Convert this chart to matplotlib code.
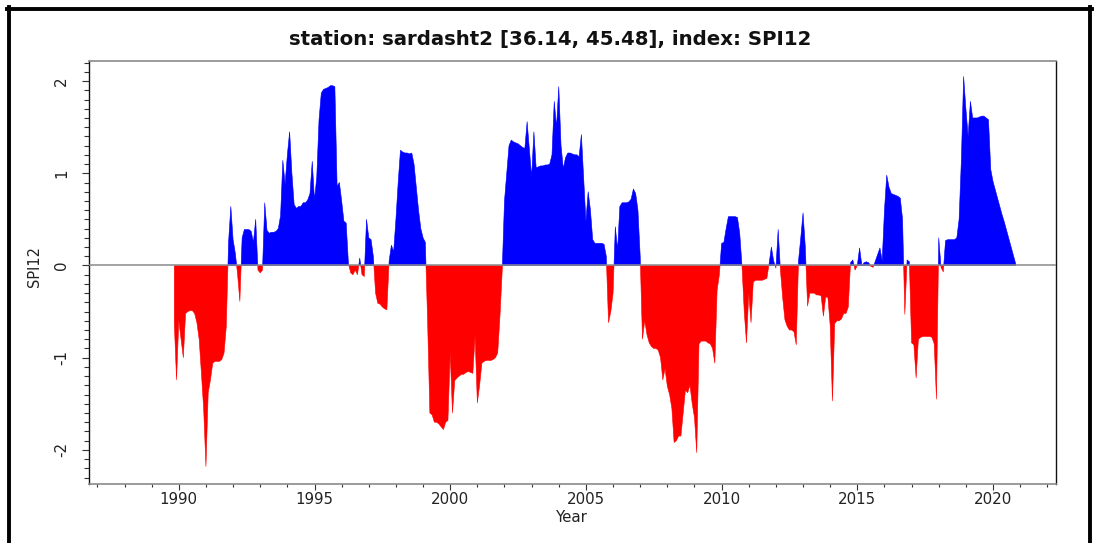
import numpy as np
import matplotlib
matplotlib.use("Agg")
import matplotlib.pyplot as plt
from matplotlib.lines import Line2D
from matplotlib.ticker import MultipleLocator, FixedLocator

# ---- data: monthly SPI12, first value = November 1989 ----
start_year = 1989
start_month = 11

spi_1989_1993 = [
    -0.62, -1.24,
    -0.60, -0.80, -1.00, -0.52, -0.50, -0.49, -0.49, -0.52, -0.62, -0.80, -1.17, -1.56,
    -2.18, -1.38, -1.24, -1.06, -1.04, -1.04, -1.04, -1.02, -0.95, -0.66, 0.25, 0.64,
    0.28, 0.13, -0.10, -0.39, 0.30, 0.39, 0.39, 0.39, 0.37, 0.25, 0.50, -0.05,
    -0.08, -0.05, 0.68, 0.38, 0.35, 0.36, 0.36, 0.37, 0.40, 0.54, 1.14, 0.88,
]
spi_1994_1998 = [
    1.20, 1.45, 1.00, 0.66, 0.62, 0.64, 0.64, 0.68, 0.68, 0.71, 0.78, 1.13,
    0.71, 0.96, 1.58, 1.87, 1.91, 1.92, 1.93, 1.95, 1.95, 1.94, 0.86, 0.90,
    0.70, 0.48, 0.46, 0.02, -0.08, -0.10, -0.05, -0.10, 0.08, -0.10, -0.12, 0.50,
    0.30, 0.28, 0.10, -0.30, -0.41, -0.42, -0.45, -0.47, -0.48, 0.05, 0.22, 0.15,
    0.50, 0.90, 1.25, 1.23, 1.22, 1.22, 1.21, 1.22, 1.10, 0.85, 0.60, 0.40,
]
spi_1999_2003 = [
    0.30, 0.25, -0.60, -1.60, -1.62, -1.70, -1.70, -1.72, -1.75, -1.78, -1.70, -1.68,
    -0.95, -1.60, -1.25, -1.22, -1.20, -1.18, -1.18, -1.16, -1.15, -1.16, -1.17, -0.77,
    -1.49, -1.30, -1.06, -1.04, -1.03, -1.03, -1.03, -1.02, -1.00, -0.95, -0.55, -0.05,
    0.70, 1.00, 1.30, 1.36, 1.34, 1.33, 1.32, 1.30, 1.28, 1.27, 1.56, 1.26,
    0.96, 1.45, 1.06, 1.07, 1.08, 1.08, 1.09, 1.09, 1.10, 1.20, 1.78, 1.50,
]
spi_2004_2008 = [
    1.94, 1.30, 1.05, 1.17, 1.22, 1.22, 1.21, 1.20, 1.20, 1.18, 1.42, 0.95,
    0.48, 0.80, 0.60, 0.28, 0.24, 0.24, 0.24, 0.24, 0.23, 0.10, -0.62, -0.50,
    -0.30, 0.42, 0.17, 0.64, 0.68, 0.68, 0.68, 0.69, 0.72, 0.83, 0.78, 0.60,
    0.10, -0.80, -0.60, -0.75, -0.84, -0.88, -0.90, -0.90, -0.92, -1.00, -1.24, -1.12,
    -1.31, -1.40, -1.55, -1.92, -1.90, -1.85, -1.85, -1.60, -1.35, -1.38, -1.30, -1.50,
]
spi_2009_2013 = [
    -1.65, -2.03, -0.85, -0.82, -0.82, -0.82, -0.84, -0.85, -0.90, -1.06, -0.27, -0.10,
    0.24, 0.25, 0.40, 0.53, 0.53, 0.53, 0.53, 0.52, 0.35, 0.00, -0.50, -0.84,
    -0.30, -0.62, -0.18, -0.16, -0.16, -0.16, -0.16, -0.15, -0.14, 0.02, 0.20, 0.05,
    -0.03, 0.39, -0.05, -0.35, -0.59, -0.66, -0.70, -0.70, -0.72, -0.86, 0.05, 0.30,
    0.57, 0.20, -0.44, -0.30, -0.30, -0.30, -0.32, -0.32, -0.33, -0.55, -0.34, -0.35,
]
spi_2014_2018 = [
    -0.65, -1.47, -0.63, -0.60, -0.60, -0.58, -0.52, -0.52, -0.45, 0.03, 0.06, -0.05,
    0.00, 0.19, 0.00, 0.03, 0.04, 0.03, -0.01, -0.02, 0.05, 0.12, 0.19, 0.05,
    0.60, 0.98, 0.85, 0.78, 0.77, 0.76, 0.75, 0.73, 0.50, -0.53, 0.06, 0.04,
    -0.84, -0.86, -1.22, -0.80, -0.78, -0.77, -0.77, -0.77, -0.77, -0.78, -0.85, -1.45,
    0.30, -0.02, -0.07, 0.27, 0.28, 0.28, 0.28, 0.28, 0.30, 0.50, 1.14, 2.05,
]
spi_2019_2020 = [
    1.70, 1.40, 1.78, 1.60, 1.60, 1.60, 1.61, 1.62, 1.62, 1.60, 1.58, 1.04,
    0.91, 0.82, 0.73, 0.64, 0.55, 0.47, 0.38, 0.29, 0.20, 0.11, 0.02,
]

title_text = "station: sardasht2 [36.14, 45.48], index: SPI12"
y_label = "SPI12"
x_label = "Year"
x_major = [1990, 1995, 2000, 2005, 2010, 2015, 2020]
y_major = [-2, -1, 0, 1, 2]

values = np.array(spi_1989_1993 + spi_1994_1998 + spi_1999_2003 +
                  spi_2004_2008 + spi_2009_2013 + spi_2014_2018 + spi_2019_2020)
t = start_year + (start_month - 1) / 12 + np.arange(len(values)) / 12

# ---- figure ----
plt.rcParams['font.family'] = ['DejaVu Sans']
W, H = 1098, 543
fig = plt.figure(figsize=(W / 100, H / 100), dpi=100)

def fx(px):
    return px / W

def fy(py):
    return 1 - py / H

ax_l, ax_r, ax_t, ax_b = 88.7, 1056, 61, 483.5
ax = fig.add_axes([fx(ax_l), fy(ax_b), fx(ax_r - ax_l), (ax_b - ax_t) / H])

ax.fill_between(t, values, 0, where=values >= 0, interpolate=True,
                facecolor='#0000FF', edgecolor='#0000FF', lw=0.4)
ax.fill_between(t, values, 0, where=values <= 0, interpolate=True,
                facecolor='#FF0000', edgecolor='#FF0000', lw=0.4)
ax.axhline(0, color='#8a8a8a', lw=1.1, zorder=3)

ax.set_xlim(1986.68, 2022.32)
ax.set_ylim(-2.365, 2.218)

ax.xaxis.set_major_locator(FixedLocator(x_major))
ax.xaxis.set_minor_locator(FixedLocator(list(range(1987, 2023))))
ax.yaxis.set_major_locator(FixedLocator(y_major))
ax.yaxis.set_minor_locator(MultipleLocator(0.1))

ax.tick_params(axis='both', which='major', direction='out', width=0.8,
               color='#333333', labelsize=10.8, labelcolor='#222222')
ax.tick_params(axis='x', which='major', length=4.5, pad=1.5)
ax.tick_params(axis='x', which='minor', length=2.3, width=0.8, color='#333333')
ax.tick_params(axis='y', which='major', length=5, pad=9)
ax.tick_params(axis='y', which='minor', length=3.3, width=0.8, color='#333333')
ax.set_yticklabels([str(v) for v in y_major], rotation=90, va='center')

for side in ['left', 'right']:
    ax.spines[side].set_color('#111111')
    ax.spines[side].set_linewidth(1.0)
for side in ['top', 'bottom']:
    ax.spines[side].set_color('#8a8a8a')
    ax.spines[side].set_linewidth(1.2)

fig.text(fx(550), fy(40), title_text, ha='center', va='center',
         fontsize=14.2, fontweight='bold', color='#111111')
fig.text(fx(35), fy(266), y_label, ha='center', va='center', rotation=90,
         fontsize=10.5, color='#222222')
fig.text(fx(572), fy(517), x_label, ha='center', va='center',
         fontsize=10.8, color='#222222')

# outer frame
lw_frame = 2.8
fig.add_artist(Line2D([fx(7), fx(1092)], [fy(8.5), fy(8.5)], color='black', lw=lw_frame))
fig.add_artist(Line2D([fx(9), fx(9)], [fy(7), fy(543)], color='black', lw=lw_frame))
fig.add_artist(Line2D([fx(1090), fx(1090)], [fy(7), fy(543)], color='black', lw=lw_frame))

fig.savefig('out.png', dpi=100)
